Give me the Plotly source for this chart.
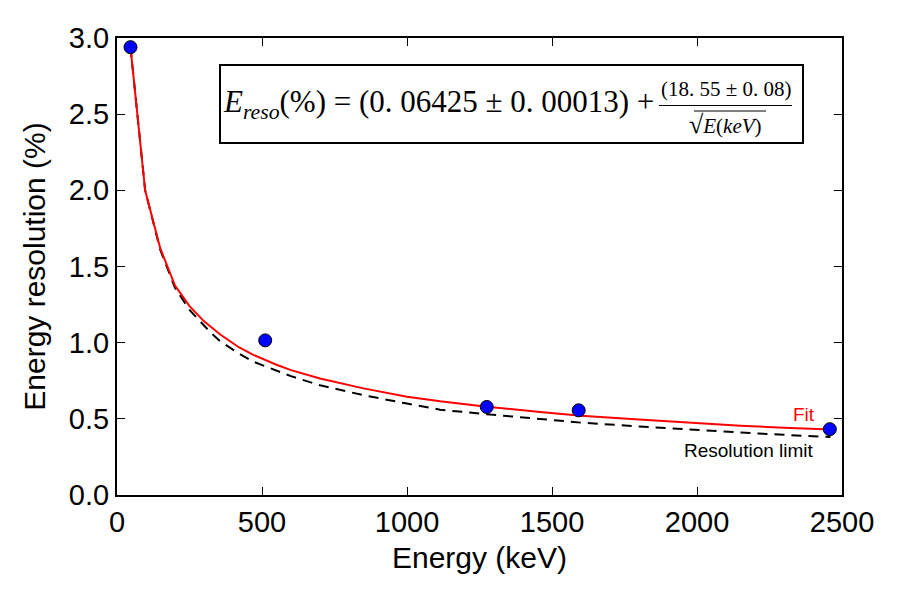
import plotly.graph_objects as go

# Data points
energy_pts = [46.5, 511, 1275, 1592, 2458]
reso_pts = [2.94, 1.015, 0.578, 0.556, 0.432]

# Fit curve
energy_fit = [46.5, 97, 149, 200, 250, 300, 355, 420, 470, 550, 600, 700, 850, 1000,
              1114, 1275, 1459, 1600, 1800, 2000, 2150, 2300, 2460]
reso_fit = [2.94, 2.00, 1.62, 1.375, 1.24, 1.14, 1.055, 0.97, 0.92, 0.855, 0.82, 0.765,
            0.70, 0.645, 0.615, 0.58, 0.545, 0.52, 0.495, 0.47, 0.455, 0.442, 0.43]

# Resolution limit curve
energy_lim = [46.5, 97, 149, 200, 250, 321, 355, 420, 470, 550, 600, 700, 850, 1000,
              1114, 1275, 1459, 1600, 1800, 2000, 2150, 2300, 2460]
reso_lim = [2.94, 2.00, 1.61, 1.36, 1.215, 1.07, 1.01, 0.93, 0.875, 0.815, 0.78, 0.72,
            0.655, 0.60, 0.56, 0.53, 0.497, 0.475, 0.45, 0.425, 0.41, 0.395, 0.38]

x_ticks = [0, 500, 1000, 1500, 2000, 2500]
y_ticks = [0.0, 0.5, 1.0, 1.5, 2.0, 2.5, 3.0]

L, R, T, B = 117, 842, 38, 495
W, H = 900, 600


def px(x):
    return (x - L) / (R - L)


def py(y):
    return (B - y) / (B - T)


fig = go.Figure()
fig.add_trace(go.Scatter(x=energy_lim, y=reso_lim, mode="lines",
                         line=dict(color="black", width=2, dash="10px,7px"),
                         showlegend=False, hoverinfo="skip"))
fig.add_trace(go.Scatter(x=energy_fit, y=reso_fit, mode="lines",
                         line=dict(color="red", width=2),
                         showlegend=False, hoverinfo="skip"))
fig.add_trace(go.Scatter(x=energy_pts, y=reso_pts, mode="markers",
                         marker=dict(color="#0000ff", size=13,
                                     line=dict(color="black", width=1)),
                         showlegend=False, cliponaxis=False))

axis_common = dict(showgrid=False, zeroline=False, showline=True, linecolor="black",
                   linewidth=2, mirror="ticks", ticks="inside", ticklen=8,
                   tickwidth=1, tickcolor="black",
                   tickfont=dict(family="Liberation Sans, Arial", size=29, color="black"))

fig.update_layout(
    width=W, height=H,
    margin=dict(l=L, r=W - R, t=T, b=H - B),
    paper_bgcolor="white", plot_bgcolor="white",
    xaxis=dict(range=[0, 2500], tickvals=x_ticks,
               ticktext=[str(v) for v in x_ticks],
               title=dict(text="Energy (keV)", standoff=10,
                          font=dict(family="Liberation Sans, Arial", size=30, color="black")),
               **axis_common),
    yaxis=dict(range=[0, 3], tickvals=y_ticks,
               ticktext=["%.1f" % v for v in y_ticks],
               title=dict(text="Energy resolution (%)", standoff=14,
                          font=dict(family="Liberation Sans, Arial", size=30, color="black")),
               **axis_common),
)

serif = "Liberation Serif, DejaVu Serif, serif"

shapes = [
    dict(type="rect", xref="paper", yref="paper", x0=px(220), x1=px(803), y0=py(143), y1=py(65),
         line=dict(color="black", width=2), fillcolor="white", layer="above"),
    dict(type="line", xref="paper", yref="paper", x0=px(659), x1=px(792), y0=py(105.5), y1=py(105.5),
         line=dict(color="black", width=1.2), layer="above"),
    dict(type="line", xref="paper", yref="paper", x0=px(694), x1=px(766), y0=py(111), y1=py(111),
         line=dict(color="black", width=1), layer="above"),
]
fig.update_layout(shapes=shapes)

annotations = [
    dict(text="<i>E</i><sub><i>reso</i></sub>(%) = (0. 06425 ± 0. 00013) +",
         x=px(221), y=py(104), xref="paper", yref="paper", xanchor="left", yanchor="middle",
         showarrow=False, font=dict(family=serif, size=31, color="black")),
    dict(text="(18. 55 ± 0. 08)",
         x=px(726), y=py(89), xref="paper", yref="paper", xanchor="center", yanchor="middle",
         showarrow=False, font=dict(family=serif, size=21, color="black")),
    dict(text="<span style='font-size:26px'>√</span><i>E</i>(<i>keV</i>)",
         x=px(725), y=py(124), xref="paper", yref="paper", xanchor="center", yanchor="middle",
         showarrow=False, font=dict(family=serif, size=21, color="black")),
    dict(text="Fit", x=px(817), y=py(414), xref="paper", yref="paper",
         xanchor="right", yanchor="middle", showarrow=False,
         font=dict(family="Liberation Sans, Arial", size=19, color="red")),
    dict(text="Resolution limit", x=px(816), y=py(450), xref="paper", yref="paper",
         xanchor="right", yanchor="middle", showarrow=False,
         font=dict(family="Liberation Sans, Arial", size=19, color="black")),
]
fig.update_layout(annotations=annotations)

fig.write_html("out.html")
